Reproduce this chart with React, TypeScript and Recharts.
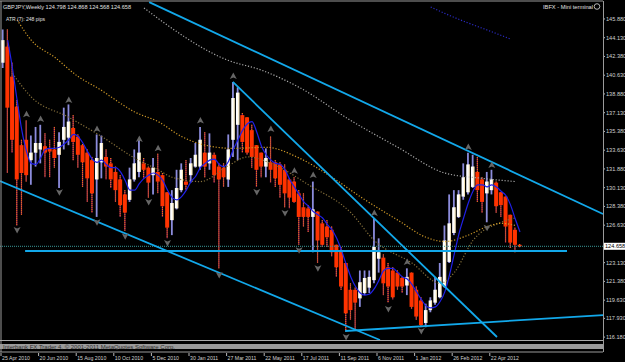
import { Bar, ComposedChart, Line, ReferenceLine, Scatter, XAxis, YAxis } from 'recharts'

// weekly GBPJPY, 25 Apr 2010 .. 3 Jun 2012 (bar index = week)
const opens = [
  141.8, 143.3, 140.5, 137.7, 134.1, 134.6, 132.7, 133.4, 133.7, 134.0,
  133.8, 133.7, 133.2, 134.6, 134.8, 135.7, 134.9, 134.1, 133.4, 132.7,
  130.9, 132.5, 133.0, 132.4, 131.6, 130.9, 129.5, 129.0, 130.9, 131.6,
  132.4, 132.0, 131.3, 131.6, 131.3, 129.7, 127.1, 128.2, 129.9, 130.7,
  131.3, 132.1, 132.1, 133.4, 132.4, 133.2, 132.1, 132.0, 130.9, 134.6,
  136.0, 136.9, 136.7, 135.5, 134.1, 133.4, 132.1, 132.5, 132.5, 132.3,
  131.8, 130.9, 130.7, 129.6, 128.3, 128.2, 127.4, 127.9, 126.8, 126.5,
  126.2, 124.8, 124.3, 123.1, 120.6, 120.6, 119.8, 120.3, 120.8, 121.5,
  123.5, 123.6, 122.7, 122.4, 122.2, 121.7, 121.0, 122.2, 120.6, 119.6,
  117.5, 118.7, 119.4, 119.9, 120.9, 123.2, 125.9, 127.4, 129.3, 129.7,
  130.2, 131.6, 130.9, 129.6, 129.9, 130.6, 129.7, 129.3, 127.6, 126.2,
  124.798,
]
const highs = [
  144.9, 144.9, 141.8, 138.3, 134.6, 136.4, 135.0, 135.8, 136.0, 135.2,
  134.6, 135.8, 135.3, 137.6, 137.9, 136.9, 135.1, 134.2, 133.7, 133.0,
  135.1, 135.0, 133.7, 132.9, 132.1, 131.3, 129.9, 132.0, 133.7, 134.6,
  132.9, 132.1, 132.9, 133.3, 131.5, 129.7, 129.9, 131.8, 132.4, 132.7,
  132.9, 134.3, 135.8, 135.3, 135.2, 133.4, 132.4, 132.4, 135.1, 140.0,
  139.5, 137.1, 136.7, 136.0, 134.1, 133.4, 133.8, 134.9, 132.7, 132.5,
  132.3, 131.0, 131.1, 129.9, 129.6, 128.5, 130.7, 127.9, 127.1, 127.1,
  126.5, 124.8, 124.6, 123.1, 121.2, 120.8, 122.4, 122.4, 122.4, 127.3,
  125.4, 123.9, 123.1, 122.7, 122.4, 121.8, 122.6, 122.2, 120.9, 119.9,
  119.3, 119.9, 121.8, 123.1, 126.6, 129.5, 129.9, 129.9, 132.4, 133.4,
  133.2, 133.0, 131.1, 131.6, 131.8, 130.7, 129.7, 129.3, 127.6, 126.4,
  124.868,
]
const lows = [
  141.3, 131.5, 133.4, 126.6, 127.6, 130.7, 130.4, 132.1, 132.4, 131.1,
  131.1, 132.0, 130.1, 133.7, 134.1, 132.7, 132.0, 130.2, 128.8, 127.8,
  127.4, 131.0, 130.9, 130.1, 128.8, 127.4, 126.1, 128.8, 130.7, 131.1,
  131.0, 129.2, 129.5, 129.6, 127.4, 125.4, 125.7, 128.1, 129.7, 129.9,
  130.6, 132.0, 131.8, 131.1, 131.8, 130.6, 122.6, 130.2, 130.2, 133.0,
  132.7, 133.4, 133.2, 132.0, 130.2, 131.1, 131.1, 130.6, 130.2, 129.2,
  128.3, 128.2, 128.7, 124.8, 126.5, 126.0, 124.1, 123.1, 124.6, 124.6,
  123.7, 121.8, 120.6, 116.7, 117.8, 116.8, 119.0, 120.1, 120.3, 121.2,
  122.2, 120.1, 119.4, 119.7, 120.6, 120.3, 120.1, 118.8, 117.8, 117.1,
  117.1, 118.5, 119.2, 119.8, 120.8, 123.1, 125.7, 127.3, 129.0, 129.5,
  130.1, 128.8, 127.8, 126.9, 129.5, 127.8, 127.4, 125.0, 124.5, 124.1,
  124.568,
]
const closes = [
  143.9, 137.6, 134.6, 130.9, 131.5, 131.3, 133.4, 134.3, 134.3, 133.4,
  133.5, 132.9, 134.4, 135.8, 136.3, 134.4, 133.2, 132.5, 131.0, 129.6,
  132.9, 134.3, 132.1, 130.9, 129.9, 128.5, 127.8, 130.9, 132.4, 133.4,
  131.8, 130.6, 132.0, 130.7, 128.4, 126.4, 128.7, 130.1, 131.8, 130.4,
  132.4, 133.2, 134.6, 132.1, 133.4, 131.3, 130.9, 131.1, 133.7, 138.5,
  139.0, 134.4, 133.4, 133.0, 131.8, 132.1, 132.9, 131.8, 131.0, 130.4,
  129.6, 129.2, 128.8, 127.4, 127.4, 127.4, 128.1, 125.2, 124.8, 125.5,
  124.1, 122.7, 120.9, 118.4, 118.7, 119.4, 121.3, 121.7, 121.8, 124.6,
  124.1, 121.2, 120.9, 119.9, 120.9, 120.9, 121.8, 119.0, 118.1, 117.3,
  118.7, 119.6, 120.6, 121.8, 125.2, 126.8, 128.3, 129.5, 131.1, 132.3,
  132.1, 129.9, 128.8, 130.7, 130.9, 128.4, 128.5, 126.5, 125.0, 124.8,
  124.658,
]

// blue moving average, read per bar (first bar has none)
const blueMa = [
  null, 143.9, 141.3, 138.3, 135.5, 133.5, 132.4, 132.3, 132.9, 133.7,
  133.8, 133.8, 133.9, 134.2, 134.6, 135.1, 134.9, 134.3, 133.5, 132.8,
  132.5, 132.7, 132.3, 132.0, 132.0, 131.6, 130.8, 129.9, 129.9, 130.5,
  131.0, 131.3, 131.5, 131.3, 130.8, 129.9, 129.2, 129.0, 129.3, 129.9,
  130.7, 131.2, 132.0, 132.4, 132.7, 132.8, 132.3, 132.1, 132.6, 133.7,
  134.6, 135.5, 136.1, 136.3, 135.3, 134.0, 133.2, 132.7, 132.4, 132.3,
  131.8, 130.9, 130.2, 129.5, 128.8, 128.4, 127.9, 127.6, 127.3, 126.7,
  126.2, 125.4, 124.3, 123.0, 121.8, 120.9, 120.3, 120.1, 120.2, 120.7,
  121.5, 122.4, 122.6, 122.6, 122.2, 121.8, 121.6, 121.1, 120.4, 119.7,
  119.1, 118.9, 119.0, 119.5, 120.4, 122.0, 123.9, 125.8, 127.3, 128.7,
  129.8, 130.4, 130.4, 130.2, 130.4, 130.2, 129.8, 129.4, 128.5, 127.2,
  126.0,
]

// slower dotted averages, read at a few bars: [bar, price]
const goldMa: [number, number][] = [
  [3, 145.8], [6, 143.9], [11, 142.3], [16, 140.5], [21, 139.2], [23, 138.6],
  [28, 137.2], [33, 136.3], [38, 134.9], [43, 134.1], [49, 133.8], [56, 133.9],
  [63, 132.9], [70, 131.1], [77, 129.0], [84, 127.1], [90, 125.5], [94, 125.1],
  [99, 125.7], [103, 126.5], [106, 126.8], [109, 126.6],
]
const brownMa: [number, number][] = [
  [2, 140.8], [6, 138.6], [14, 136.7], [21, 134.9], [28, 132.9], [33, 131.8],
  [36, 131.1], [42, 130.7], [48, 132.2], [52, 133.0], [58, 132.2], [65, 130.4],
  [74, 127.8], [79, 125.2], [87, 123.1], [93, 121.2], [96, 122.2], [100, 125.2],
  [106, 126.9], [109, 127.3],
]
const grayMa: [number, number][] = [
  [30, 146.9], [48, 142.0], [55, 141.1], [63, 139.5], [74, 136.4], [84, 133.9],
  [94, 131.5], [102, 131.0], [109, 130.7],
]
const navyMa: [number, number][] = [
  [91, 147.0], [94, 146.4], [99, 145.5], [103, 144.85], [108, 144.0],
]

const upFractals: [number, number][] = [
  [5, 136.98], [8, 136.54], [14, 138.32], [20, 135.61], [29, 134.68], [33, 133.8],
  [42, 136.4], [49, 140.56], [57, 135.61], [62, 131.7], [66, 131.31], [79, 127.77],
  [86, 123.19], [99, 133.93], [104, 132.25],
]
const downFractals: [number, number][] = [
  [3, 126.18], [12, 129.7], [20, 126.9], [26, 125.6], [31, 128.79], [35, 124.96],
  [46, 121.98], [54, 129.73], [60, 127.77], [63, 124.3], [67, 122.6], [73, 116.19],
  [82, 118.8], [89, 116.75], [103, 126.4],
]

// hand drawn trend lines: [[bar, price], [bar, price]]
const trendLines: [number, number][][] = [
  [[31.1, 147.45], [127.66, 127.67]],
  [[-0.64, 130.75], [80.2, 115.91]],
  [[48.9, 140.0], [105.1, 116.19]],
  [[72.8, 116.75], [127.66, 118.24]],
  [[4.7, 124.22], [120.0, 124.22]],
]

const bid = 124.658
const priceTicks = [
  145.88, 144.13, 142.38, 140.63, 138.88, 137.13, 135.38, 133.63, 131.88,
  130.13, 128.38, 126.63, 123.13, 121.38, 119.63, 117.93, 116.18,
]
const dateTickBars = [0, 8, 16, 24, 32, 40, 48, 56, 64, 72, 80, 88, 96, 104]
const dateLabels = [
  '25 Apr 2010', '20 Jun 2010', '15 Aug 2010', '10 Oct 2010', '5 Dec 2010',
  '30 Jan 2011', '27 Mar 2011', '22 May 2011', '17 Jul 2011', '11 Sep 2011',
  '6 Nov 2011', '1 Jan 2012', '26 Feb 2012', '22 Apr 2012',
]

const sparse = (pairs: [number, number][]) => {
  const m = new Map(pairs)
  return (i: number) => (m.has(i) ? m.get(i) : null)
}
const gold = sparse(goldMa)
const brown = sparse(brownMa)
const gray = sparse(grayMa)
const navy = sparse(navyMa)

const rows = opens.map((o, i) => ({
  i,
  range: [lows[i], highs[i]],
  open: o,
  high: highs[i],
  low: lows[i],
  close: closes[i],
  ma: blueMa[i],
  gold: gold(i),
  brown: brown(i),
  gray: gray(i),
  navy: navy(i),
}))

const font = '"Liberation Sans", "DejaVu Sans", sans-serif'
const W = 625
const H = 362

function Candle(props: any) {
  const { x, y, width, height, payload } = props
  if (!payload || payload.high == null) return null
  const top = Math.min(y, y + height)
  const bot = Math.max(y, y + height)
  const span = payload.high - payload.low || 1
  const py = (v: number) => top + ((payload.high - v) / span) * (bot - top)
  const cx = x + width / 2
  const up = payload.close >= payload.open
  const bTop = py(Math.max(payload.open, payload.close))
  const bh = Math.max(1, py(Math.min(payload.open, payload.close)) - bTop)
  if (up) {
    return (
      <g>
        <line x1={cx} x2={cx} y1={top} y2={bot} stroke="#8c8cdc" strokeWidth={1.8} />
        <rect x={cx - 1.7} y={bTop} width={3.4} height={bh} fill="#ffffff" />
        <line x1={cx + 1.2} x2={cx + 1.2} y1={bTop} y2={bTop + bh} stroke="#f4dca0" strokeWidth={0.8} />
      </g>
    )
  }
  return (
    <g>
      <line x1={cx} x2={cx} y1={top} y2={bot} stroke="#8a1760" strokeWidth={1.3} />
      <line x1={cx} x2={cx} y1={top} y2={bot} stroke="#ff8a00" strokeWidth={1} strokeDasharray="1 1" />
      <rect x={cx - 2} y={bTop} width={4} height={bh} fill="#ff3300" />
    </g>
  )
}

function Arrow({ cx, cy, down }: { cx: number; cy: number; down?: boolean }) {
  const s = down ? -1 : 1
  const pts = [
    [cx, cy - 3.5 * s],
    [cx + 3.5, cy + 3 * s],
    [cx, cy + 1.5 * s],
    [cx - 3.5, cy + 3 * s],
  ]
  return <polygon points={pts.map((p) => p.join(',')).join(' ')} fill="#666666" />
}

function PriceTick({ x, y, payload }: any) {
  return (
    <g>
      <line x1={x} x2={x + 2} y1={y} y2={y} stroke="#b8b8b8" />
      <text x={x + 3} y={y + 2} fontSize={5.6} fill="#d0d0d0" fontFamily={font}>
        {Number(payload.value).toFixed(3)}
      </text>
    </g>
  )
}

function DateTick({ x, y, payload }: any) {
  const k = dateTickBars.indexOf(payload.value)
  return (
    <g>
      <line x1={x - 2} x2={x - 2} y1={y + 13} y2={y + 16} stroke="#b8b8b8" />
      <text x={x - 1} y={y + 19.5} fontSize={5.2} fill="#d0d0d0" fontFamily={font}>
        {dateLabels[k]}
      </text>
    </g>
  )
}

function BidTag({ viewBox }: any) {
  const { x, y, width } = viewBox
  return (
    <g>
      <rect x={x + width + 1} y={y - 3.5} width={22} height={7} fill="#ffffff" />
      <text x={x + width + 2} y={y + 2} fontSize={5.6} fill="#000000" fontFamily={font}>
        {bid.toFixed(3)}
      </text>
    </g>
  )
}

const dotted = { dot: false, strokeWidth: 1.2, strokeDasharray: '1.2 1.8', type: 'monotone' as const, connectNulls: true, isAnimationActive: false }

export default function App() {
  return (
    <div style={{ position: 'absolute', left: 0, top: 0, width: W, height: H, background: '#000', overflow: 'hidden' }}>
      <ComposedChart width={W} height={H} data={rows} margin={{ top: 3, right: 0, bottom: 0, left: 0 }}>
        <XAxis
          dataKey="i"
          type="number"
          domain={[-0.64, 127.66]}
          allowDataOverflow
          ticks={dateTickBars}
          interval={0}
          tick={<DateTick />}
          tickLine={false}
          axisLine={false}
          tickSize={0}
          tickMargin={0}
          height={22}
        />
        <YAxis
          orientation="right"
          type="number"
          domain={[115.91, 147.37]}
          allowDataOverflow
          ticks={priceTicks}
          interval={0}
          tick={<PriceTick />}
          tickLine={false}
          axisLine={false}
          tickSize={0}
          tickMargin={0}
          width={22}
        />
        <Line dataKey="navy" stroke="#2a2ac0" {...dotted} />
        <Line dataKey="gray" stroke="#a8a8a8" {...dotted} />
        <Line dataKey="brown" stroke="#86703a" {...dotted} />
        <Line dataKey="gold" stroke="#d09a28" {...dotted} />
        <ReferenceLine y={bid} stroke="#3a9a9a" strokeDasharray="1 1" ifOverflow="visible" label={<BidTag />} />
        <Bar dataKey="range" barSize={4} shape={(p: any) => <Candle {...p} />} isAnimationActive={false} />
        <Line dataKey="ma" stroke="#2020e8" strokeWidth={1.2} dot={false} type="monotone" isAnimationActive={false} />
        {trendLines.map((seg, k) => (
          <ReferenceLine
            key={k}
            segment={seg.map(([i, v]) => ({ x: i, y: v }))}
            stroke="#12a8ea"
            strokeWidth={1.8}
            ifOverflow="visible"
          />
        ))}
        <Scatter
          data={upFractals.map(([i, price]) => ({ i, price }))}
          dataKey="price"
          shape={(p: any) => <Arrow cx={p.cx} cy={p.cy} />}
          isAnimationActive={false}
        />
        <Scatter
          data={downFractals.map(([i, price]) => ({ i, price }))}
          dataKey="price"
          shape={(p: any) => <Arrow cx={p.cx} cy={p.cy} down />}
          isAnimationActive={false}
        />
      </ComposedChart>
      <svg width={W} height={H} style={{ position: 'absolute', left: 0, top: 0, pointerEvents: 'none' }}>
        <line x1={0} x2={603} y1={1} y2={1} stroke="#9a9a9a" />
        <line x1={1} x2={1} y1={1} y2={352} stroke="#9a9a9a" />
        <line x1={603.5} x2={603.5} y1={1} y2={352} stroke="#9a9a9a" />
        <line x1={0} x2={603} y1={340.5} y2={340.5} stroke="#a8a8a8" />
        <rect x={0} y={344} width={603} height={5} fill="#9a9a9a" />
        <line x1={0} x2={603} y1={352} y2={352} stroke="#9a9a9a" />
        <text x={3} y={348.5} fontSize={5.5} fill="#303030" fontFamily={font} textLength={172} lengthAdjust="spacingAndGlyphs">
          Interbank FX Trader 4, © 2001-2011 MetaQuotes Software Corp.
        </text>
        <text x={3} y={8.5} fontSize={6} fill="#e0e0e0" fontFamily={font} textLength={128} lengthAdjust="spacingAndGlyphs">
          GBPJPY,Weekly  124.798 124.868 124.568 124.658
        </text>
        <text x={6} y={20.5} fontSize={6} fill="#e0e0e0" fontFamily={font} textLength={39} lengthAdjust="spacingAndGlyphs">
          ATR (7):  248 pips
        </text>
        <text x={543} y={8.5} fontSize={6} fill="#e0e0e0" fontFamily={font} textLength={50} lengthAdjust="spacingAndGlyphs">
          IBFX - Mini terminal
        </text>
        <circle cx={597} cy={6.5} r={2.8} fill="none" stroke="#e0e0e0" strokeWidth={0.8} />
      </svg>
    </div>
  )
}
